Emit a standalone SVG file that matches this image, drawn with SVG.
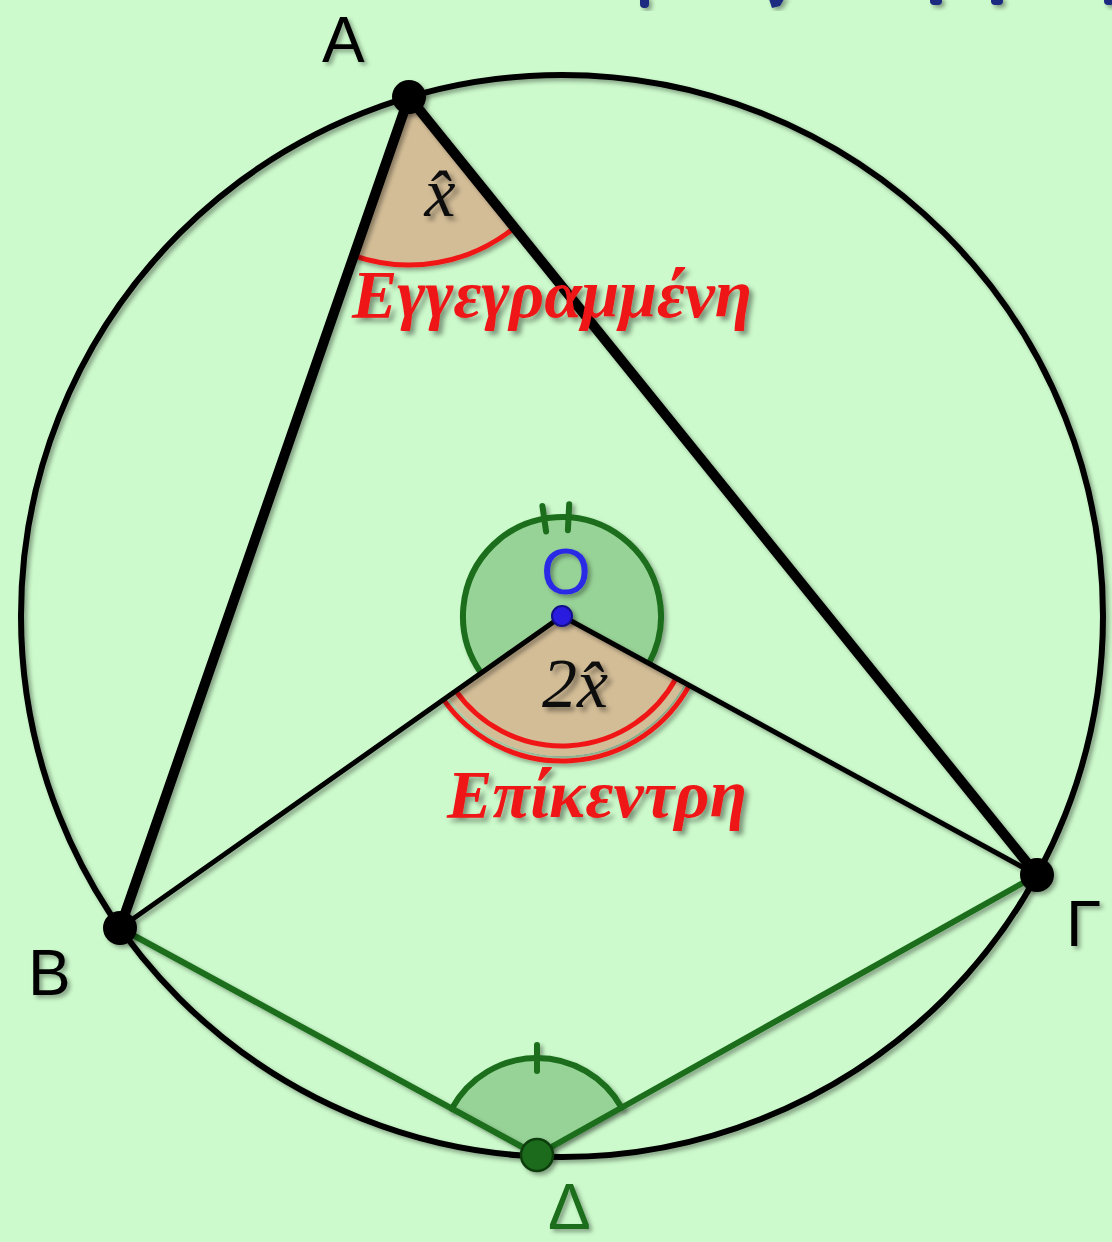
<svg xmlns="http://www.w3.org/2000/svg" width="1112" height="1242" viewBox="0 0 1112 1242">
<defs>
<filter id="sh" x="-20%" y="-20%" width="140%" height="140%">
<feDropShadow dx="3" dy="3" stdDeviation="2.2" flood-color="#000" flood-opacity="0.35"/>
</filter>
<filter id="tsh" x="-10%" y="-20%" width="120%" height="150%">
<feDropShadow dx="4" dy="4" stdDeviation="2.5" flood-color="#000" flood-opacity="0.4"/>
</filter>
</defs>
<style>
.lbl{font-family:"Liberation Sans",Arial,sans-serif;font-size:64px;}
.math{font-family:"Liberation Serif","DejaVu Serif",serif;font-style:italic;font-size:70px;fill:#111;}
.word{font-family:"Liberation Serif","DejaVu Serif",serif;font-style:italic;font-weight:bold;font-size:68px;fill:#ee1515;}
.thick{stroke:#000;stroke-width:10;stroke-linecap:round;fill:none;}
.thin{stroke:#000;stroke-width:5;stroke-linecap:round;fill:none;}
.gline{stroke:#1a6e1a;stroke-width:6;stroke-linecap:round;fill:none;}
.garc{stroke:#1a6e1a;stroke-width:6;fill:none;stroke-linecap:round;}
.rarc{stroke:#f01818;stroke-width:5;fill:none;}
.tan{fill:#d3bd97;}
.gfill{fill:#97d297;}
</style>
<rect width="1112" height="1242" fill="#ccfacc"/>

<g id="title-fragments" fill="#1c2a80" filter="url(#sh)">
<rect x="640" y="-4" width="9" height="12" rx="4"/>
<path d="M768 -4 L786 -4 L780 6 L772 8 Z"/>
<rect x="930" y="-4" width="12" height="9" rx="4"/>
<rect x="991" y="-4" width="12" height="9" rx="4"/>
<rect x="1104" y="-4" width="10" height="9" rx="4"/>
</g>

<g id="circle" filter="url(#sh)">
<circle cx="562" cy="616" r="541" fill="none" stroke="#000" stroke-width="6"/>
</g>

<g id="angle-A" filter="url(#sh)">
<path class="tan" d="M409,97 L514.5,227.7 A168,168 0 0 1 353.7,255.7 Z"/>
<path class="rarc" d="M514.5,227.7 A168,168 0 0 1 353.7,255.7"/>
</g>

<g id="angle-O-reflex" filter="url(#sh)">
<path class="gfill" d="M562,616 L481.1,673.1 A99,99 0 1 1 648.9,663.4 Z"/>
<path class="garc" d="M481.1,673.1 A99,99 0 1 1 648.9,663.4"/>
<line class="garc" x1="546.1" y1="531.5" x2="542.4" y2="505.9"/>
<line class="garc" x1="567.9" y1="530.2" x2="569.2" y2="504.3"/>
</g>

<g id="angle-O" filter="url(#sh)">
<path class="tan" d="M562,616 L684.9,683 A140,140 0 0 1 447.6,696.7 Z"/>
<path class="rarc" d="M676.1,678.2 A130,130 0 0 1 455.8,690.9"/>
<path class="rarc" d="M689.3,685.4 A145,145 0 0 1 443.5,699.6"/>
</g>

<g id="angle-D" filter="url(#sh)">
<path class="gfill" d="M537,1155 L451.8,1108.6 A97,97 0 0 1 621.6,1107.6 Z"/>
<path class="garc" d="M451.8,1108.6 A97,97 0 0 1 621.6,1107.6"/>
<line class="garc" x1="537" y1="1071" x2="537" y2="1045"/>
</g>

<g id="connectors" filter="url(#sh)">
<line class="thick" x1="409" y1="97" x2="120" y2="928"/>
<line class="thick" x1="409" y1="97" x2="1037" y2="875"/>
<line class="thin" x1="562" y1="616" x2="120" y2="928"/>
<line class="thin" x1="562" y1="616" x2="1037" y2="875"/>
<line class="gline" x1="120" y1="928" x2="537" y2="1155"/>
<line class="gline" x1="537" y1="1155" x2="1037" y2="875"/>
</g>

<g id="text-angles" filter="url(#tsh)">
<text class="math" x="440" y="216" text-anchor="middle">x̂</text>
<text class="math" x="575" y="707" text-anchor="middle">2x̂</text>
<text class="word" x="352" y="317" textLength="400">Εγγεγραμμένη</text>
<text class="word" x="447" y="817" textLength="300">Επίκεντρη</text>
</g>

<g id="node-A" filter="url(#sh)">
<circle cx="409" cy="97" r="17" fill="#000"/>
<text class="lbl" x="322" y="62" fill="#000">A</text>
</g>
<g id="node-B" filter="url(#sh)">
<circle cx="120" cy="928" r="17" fill="#000"/>
<text class="lbl" x="28" y="995" fill="#000">B</text>
</g>
<g id="node-G" filter="url(#sh)">
<circle cx="1037" cy="875" r="17" fill="#000"/>
<text class="lbl" x="1066" y="946" fill="#000">Γ</text>
</g>
<g id="node-D" filter="url(#sh)">
<circle cx="537" cy="1155" r="16" fill="#1b6b1b" stroke="#0b3d0b" stroke-width="2.5"/>
<text class="lbl" x="548" y="1229" fill="#1a6e1a" font-size="58">Δ</text>
</g>
<g id="node-O" filter="url(#sh)">
<circle cx="562" cy="616" r="10" fill="#2a1ddf" stroke="#12108a" stroke-width="2"/>
<text class="lbl" x="566" y="594" fill="#2a2ae6" text-anchor="middle">O</text>
</g>
</svg>
